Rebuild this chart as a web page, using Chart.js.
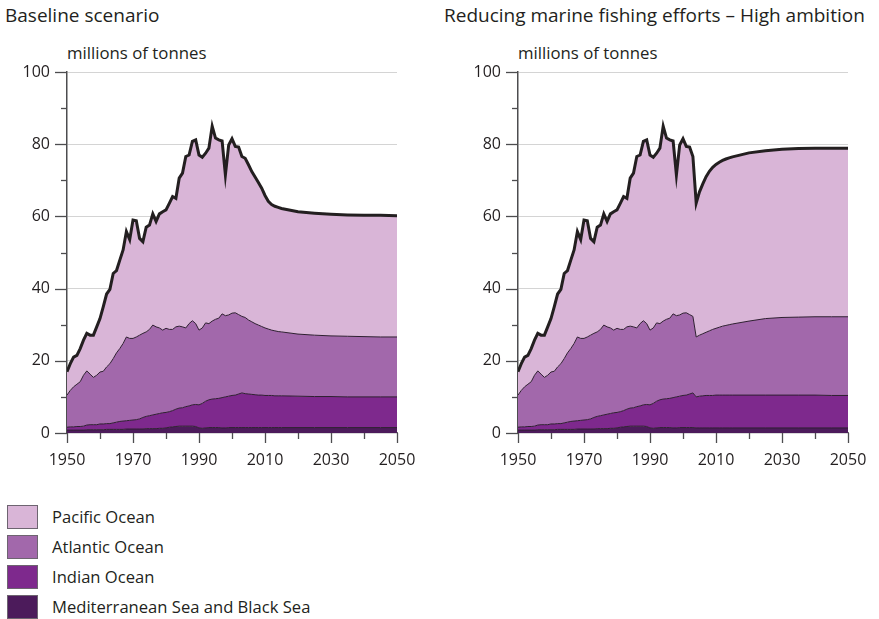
<!DOCTYPE html>
<html>
<head>
<meta charset="utf-8">
<script src="https://cdn.jsdelivr.net/npm/chart.js@4.4.1/dist/chart.umd.min.js"></script>
<style>
  body { margin: 0; width: 879px; height: 619px; background: #fff; position: relative; overflow: hidden;
         font-family: "Open Sans", "Noto Sans", sans-serif; color: #231f20; }
  .title { position: absolute; top: 3px; font-size: 19px; line-height: 24px; white-space: nowrap; }
  .unit { position: absolute; top: 42px; font-size: 16.8px; line-height: 22px; white-space: nowrap; }
  canvas { position: absolute; top: 60px; }
  .legend { position: absolute; left: 7px; top: 505px; }
  .item { position: relative; height: 30px; }
  .box { position: absolute; left: 0; top: 0; width: 29px; height: 22px; border: 1px solid #6d6470; }
  .label { position: absolute; left: 45px; top: 0px; font-size: 16.6px; line-height: 24px; white-space: nowrap; }
</style>
</head>
<body>
<div class="title" style="left:5px">Baseline scenario</div>
<div class="title" style="left:444px">Reducing marine fishing efforts – High ambition</div>
<div class="unit" style="left:67px">millions of tonnes</div>
<div class="unit" style="left:518px">millions of tonnes</div>
<canvas id="baseline" width="425" height="415" style="left:0px"></canvas>
<canvas id="high" width="425" height="415" style="left:451px"></canvas>
<div class="legend" id="legend"></div>

<script>
// catch by ocean, millions of tonnes
const seriesNames = ["Mediterranean Sea and Black Sea", "Indian Ocean", "Atlantic Ocean", "Pacific Ocean"];
const seriesColors = ["#4c1b5b", "#7e298d", "#a268ab", "#d9b5d7"];

// observed 1950-2003 (shared by both scenarios)
const histYears = [1950,1951,1952,1953,1954,1955,1956,1957,1958,1959,
  1960,1961,1962,1963,1964,1965,1966,1967,1968,1969,
  1970,1971,1972,1973,1974,1975,1976,1977,1978,1979,
  1980,1981,1982,1983,1984,1985,1986,1987,1988,1989,
  1990,1991,1992,1993,1994,1995,1996,1997,1998,1999,
  2000,2001,2002,2003];
const histPacific = [6.5,7.4,8.2,8.0,9.2,9.7,10.4,10.8,11.7,13.4,
  14.8,17.9,20.2,20.6,23.6,22.8,24.5,25.9,29.2,27.4,
  32.8,32.2,26.8,25.4,29.0,28.9,30.8,29.2,31.6,32.8,
  32.8,34.9,36.8,35.6,41.0,42.6,47.5,46.7,49.7,50.9,
  48.5,47.3,47.0,48.6,54.0,50.2,49.4,47.9,39.0,47.1,
  48.3,46.1,46.4,44.3];
const histAtlantic = [8.9,10.1,11.1,11.7,12.4,14.1,15.0,14.0,13.1,13.7,
  14.4,14.6,15.7,16.6,17.8,19.2,20.2,21.5,23.2,22.7,
  22.6,22.9,23.2,23.3,23.4,23.9,24.9,24.2,23.7,22.9,
  23.3,22.8,22.5,22.8,22.7,22.4,21.8,22.8,23.3,22.4,
  20.7,20.9,21.7,21.1,21.6,22.0,22.2,23.2,22.5,22.5,
  22.8,22.8,22.0,21.2];
const histIndian = [0.8,0.9,0.9,1.0,1.0,1.1,1.3,1.4,1.4,1.4,
  1.6,1.6,1.6,1.6,1.8,2.0,2.2,2.3,2.3,2.4,
  2.5,2.6,2.8,3.2,3.4,3.6,3.8,4.0,4.1,4.3,
  4.3,4.3,4.5,4.8,5.0,5.1,5.4,5.6,5.9,6.1,
  6.4,6.9,7.4,7.7,7.9,8.0,8.1,8.4,8.6,8.7,
  8.9,9.0,9.3,9.6];
const histMed = [0.8,0.8,0.8,0.8,0.8,0.8,0.9,0.9,0.9,0.9,
  0.9,0.9,1.0,1.0,1.0,1.0,1.0,1.0,1.1,1.1,
  1.1,1.1,1.1,1.1,1.2,1.2,1.2,1.2,1.3,1.3,
  1.4,1.6,1.7,1.8,1.9,1.9,1.9,1.9,1.9,1.8,
  1.4,1.3,1.4,1.5,1.5,1.5,1.5,1.4,1.4,1.5,
  1.5,1.5,1.5,1.5];

// projections 2004-2050
const projYears = [2004,2005,2006,2007,2008,2009,2010,2011,2012,2013,2014,2015,2020,2025,2030,2035,2040,2045,2050];

const basePacific  = [44.1,43.0,41.6,40.6,39.5,38.3,36.7,35.4,34.8,34.5,34.4,34.2,33.9,33.8,33.7,33.6,33.6,33.7,33.6];
const baseAtlantic = [21.1,20.5,20.1,19.7,19.4,19.0,18.7,18.4,18.1,18.0,17.8,17.7,17.2,17.0,16.8,16.8,16.7,16.6,16.6];
const baseIndian   = [9.4,9.3,9.2,9.1,9.0,9.0,8.9,8.9,8.9,8.8,8.8,8.8,8.7,8.6,8.6,8.5,8.5,8.5,8.5];
const baseMed      = [1.5,1.5,1.5,1.5,1.5,1.5,1.5,1.5,1.5,1.5,1.5,1.5,1.5,1.5,1.5,1.5,1.5,1.5,1.5];

const highPacific  = [37.1,39.7,41.5,43.1,44.2,44.9,45.4,45.7,45.9,46.1,46.2,46.3,46.6,46.5,46.6,46.7,46.7,46.7,46.7];
const highAtlantic = [16.6,16.9,17.2,17.5,17.9,18.3,18.5,18.8,19.1,19.3,19.5,19.7,20.5,21.2,21.5,21.6,21.7,21.8,21.8];
const highIndian   = [8.6,8.8,8.9,9.0,9.0,9.0,9.1,9.1,9.1,9.1,9.1,9.1,9.1,9.1,9.1,9.1,9.1,9.0,9.0];
const highMed      = [1.4,1.4,1.4,1.4,1.4,1.4,1.4,1.4,1.4,1.4,1.4,1.4,1.4,1.4,1.4,1.4,1.4,1.4,1.4];

Chart.defaults.font.family = '"Open Sans", "Noto Sans", sans-serif';
Chart.defaults.color = "#231f20";

function points(hist, proj) {
  const years = histYears.concat(projYears);
  const vals = hist.concat(proj);
  return years.map((yr, i) => ({ x: yr, y: vals[i] }));
}

// tick marks of two lengths, placed with the chart's own scales
const tickMarks = {
  id: "tickMarks",
  afterDraw(chart) {
    const { ctx, scales: { x, y } } = chart;
    ctx.save();
    ctx.strokeStyle = "#4d4d4f";
    ctx.lineWidth = 1.3;
    y.ticks.forEach(t => {
      const py = Math.round(y.getPixelForValue(t.value)) + 0.5;
      const len = t.value % 20 === 0 ? 12 : 6;
      ctx.beginPath();
      ctx.moveTo(y.right - len, py);
      ctx.lineTo(y.right, py);
      ctx.stroke();
    });
    x.ticks.forEach(t => {
      const px = Math.round(x.getPixelForValue(t.value)) + 0.5;
      const len = (t.value - 1950) % 20 === 0 ? 10 : 6;
      ctx.beginPath();
      ctx.moveTo(px, x.top);
      ctx.lineTo(px, x.top + len);
      ctx.stroke();
    });
    ctx.restore();
  }
};

function makeChart(id, pacific, atlantic, indian, med) {
  const sets = [
    points(histMed, med),
    points(histIndian, indian),
    points(histAtlantic, atlantic),
    points(histPacific, pacific)
  ];
  new Chart(document.getElementById(id), {
    type: "line",
    data: {
      datasets: sets.map((d, i) => ({
        label: seriesNames[i],
        data: d,
        backgroundColor: seriesColors[i],
        borderColor: i === 3 ? "#231f20" : "#2e1f30",
        borderWidth: i === 3 ? 3 : 1,
        fill: i === 0 ? "origin" : "-1",
        pointRadius: 0,
        tension: 0
      }))
    },
    options: {
      responsive: false,
      animation: false,
      events: [],
      layout: { padding: { top: 12, right: 28, left: 0, bottom: 0 } },
      plugins: { legend: { display: false }, tooltip: { enabled: false } },
      scales: {
        x: {
          type: "linear",
          min: 1950,
          max: 2050,
          afterFit: s => { s.height = 42; s.paddingLeft = 0; s.paddingRight = 0; },
          grid: { drawOnChartArea: false, drawTicks: false },
          border: { display: true, color: "#6b6b6d", width: 1.3 },
          ticks: {
            stepSize: 10,
            padding: 18,
            maxRotation: 0,
            autoSkip: false,
            font: { size: 16 },
            callback: v => ((v - 1950) % 20 === 0 ? String(v) : "")
          }
        },
        y: {
          stacked: true,
          min: 0,
          max: 100,
          afterFit: s => { s.width = 67; s.paddingTop = 0; s.paddingBottom = 0; },
          grid: {
            drawTicks: false,
            color: c => (c.tick && c.tick.value % 20 === 0 && c.tick.value > 0 ? "#d4d4d4" : "rgba(0,0,0,0)"),
            lineWidth: 1
          },
          border: { display: true, color: "#4d4d4f", width: 1.5 },
          ticks: {
            stepSize: 10,
            padding: 17,
            autoSkip: false,
            font: { size: 16 },
            callback: v => (v % 20 === 0 ? String(v) : "")
          }
        }
      }
    },
    plugins: [tickMarks]
  });
}

makeChart("baseline", basePacific, baseAtlantic, baseIndian, baseMed);
makeChart("high", highPacific, highAtlantic, highIndian, highMed);

// legend, top row first
const legend = document.getElementById("legend");
[3, 2, 1, 0].forEach(i => {
  const row = document.createElement("div");
  row.className = "item";
  row.innerHTML = `<div class="box" style="background:${seriesColors[i]}"></div><div class="label">${seriesNames[i]}</div>`;
  legend.appendChild(row);
});
</script>
</body>
</html>
